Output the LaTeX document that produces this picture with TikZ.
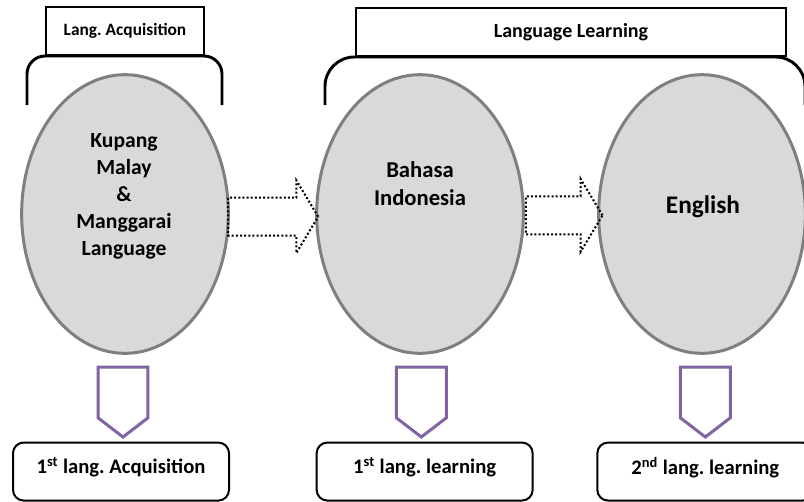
\documentclass[tikz,border=0pt]{standalone}
\usepackage{fontspec}
\setmainfont{Carlito}
\usetikzlibrary{shapes.geometric,shapes.arrows,positioning}
\frenchspacing

\begin{document}
\begin{tikzpicture}[x=0.75pt,y=-0.75pt]

\definecolor{ellgray}{HTML}{D9D9D9}
\definecolor{ellline}{HTML}{7F7F7F}
\definecolor{arrpurple}{HTML}{8064A2}

\tikzset{
  topbox/.style={draw,line width=1.5pt,minimum height=36pt,inner sep=0pt,
    font=\fontsize{13}{15}\selectfont\bfseries},
  bracket/.style={line width=2.2pt},
  langell/.style={ellipse,draw=ellline,fill=ellgray,line width=2.25pt,
    minimum width=155pt,minimum height=209pt,inner sep=0pt},
  langtxt/.style={align=center,inner sep=0pt},
  dotarrow/.style={single arrow,draw,line width=1.5pt,dash pattern=on 1.5pt off 1.6pt,
    inner sep=0pt,inner ysep=13.5pt,single arrow head extend=13pt,
    single arrow tip angle=118,anchor=tail},
  purparrow/.style={single arrow,draw=arrpurple,line width=2.25pt,inner sep=0pt,
    inner ysep=17.6pt,single arrow head extend=0pt,single arrow tip angle=105,
    minimum height=52.5pt,rotate=-90,anchor=tail},
  outbox/.style={draw,line width=1.5pt,rounded corners=8pt,minimum width=162pt,
    minimum height=43.5pt,text depth=9pt,anchor=north,
    font=\fontsize{15.5}{18}\selectfont\bfseries}
}

\useasboundingbox (0,0) rectangle (804,501);

% headings
\node[topbox,minimum width=118.5pt] (b1) at (125,31) {Lang. Acquisition};
\node[topbox,minimum width=322.5pt,font=\fontsize{15}{18}\selectfont\bfseries] (b2) at (571,32) {Language Learning};

\draw[bracket,rounded corners=13.5pt] (27,105) |- (b1.south) -| (222,105);
\draw[bracket,rounded corners=22pt] (325,105) |- (b2.south) -| (805,105);

% languages
\node[langell] (e1) at (125,214) {};
\node[langell] (e2) at (420,214) {};
\node[langell] (e3) at (702,214) {};

\node[langtxt,font=\fontsize{16.2}{20.25}\selectfont\bfseries] (t1) at (124,196) {Kupang\\Malay\\\&\\Manggarai\\Language};
\node[langtxt,font=\fontsize{17}{21}\selectfont\bfseries] (t2) at (420,184) {Bahasa\\Indonesia};
\node[langtxt,font=\fontsize{19}{22}\selectfont\bfseries] (t3) at (703,207) {English};

\node[dotarrow,minimum height=67.5pt] (a1) at ([xshift=-2pt,yshift=-2pt]e1.east) {};
\node[dotarrow,minimum height=57.5pt] (a2) at ([yshift=-1pt]e2.east) {};

% outcomes
\node[purparrow] (p1) at ([xshift=-1.5pt,yshift=-8pt]e1.south) {};
\node[purparrow] (p2) at ([xshift=1pt,yshift=-8pt]e2.south) {};
\node[purparrow] (p3) at ([xshift=2.5pt,yshift=-8pt]e3.south) {};

\node[outbox] (o1) at ([xshift=-1.5pt,yshift=-2pt]p1.tip) {1\textsuperscript{st} lang. Acquisition};
\node[outbox] (o2) at ([xshift=2.5pt,yshift=-2pt]p2.tip) {1\textsuperscript{st} lang. learning};
\node[outbox] (o3) at ([xshift=0pt,yshift=-2pt]p3.tip) {2\textsuperscript{nd} lang. learning};

\end{tikzpicture}
\end{document}
